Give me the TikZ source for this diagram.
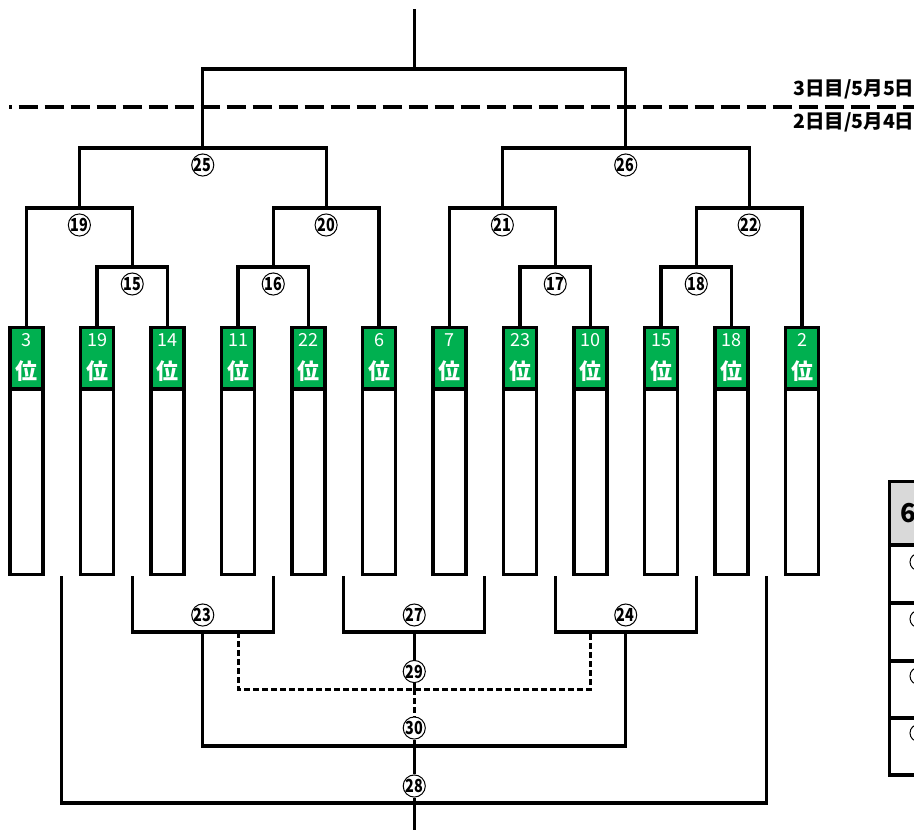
\documentclass[tikz,border=0pt]{standalone}
\usepackage{fontspec}
\setmainfont{Noto Sans CJK JP}
\definecolor{boxgreen}{RGB}{0,176,80}
\definecolor{hdrgray}{RGB}{217,217,217}
\newcommand\mycnum[1]{\scalebox{0.8}[1]{#1}}
\begin{document}
\begin{tikzpicture}[x=1pt,y=-1pt,line width=3.2pt,
  gbox/.style={draw,fill=boxgreen,minimum width=33pt,minimum height=61.5pt,inner sep=0pt},
  wbox/.style={draw,fill=white,minimum width=33pt,minimum height=185.5pt,inner sep=0pt},
  rank/.style={text=white,font=\fontsize{18}{18}\selectfont,inner sep=0pt},
  kurai/.style={text=white,font=\fontsize{22}{22}\selectfont\bfseries,inner sep=0pt},
  mnum/.style={circle,draw,line width=1pt,fill=white,minimum size=22pt,inner sep=0pt,font=\fontsize{18}{18}\selectfont\bfseries},
  daytxt/.style={font=\fontsize{19.5}{19.5}\selectfont\bfseries,inner sep=0pt,anchor=east},
  dayline/.style={line width=4pt,dash pattern=on 19.5pt off 6.5pt,dash phase=16.5pt},
  subline/.style={line width=3pt,dash pattern=on 6pt off 3pt}]
\useasboundingbox (0,0) rectangle (914,830);
\clip (0,0) rectangle (914,830);

% boxes
\foreach \i/\r in {1/3,2/19,3/14,4/11,5/22,6/6,7/7,8/23,9/10,10/15,11/18,12/2}{
  \pgfmathsetmacro\cx{26.5+70.5*(\i-1)}
  \node[wbox] (w\i) at (\cx,481.75) {};
  \node[gbox] (g\i) at (\cx,358.25) {};
  \node[rank] (r\i) at (\cx,340) {\r};
  \node[kurai] (k\i) at (\cx,371) {位};
}

% upper bracket coordinates
\coordinate (m15) at (132.25,267);
\coordinate (m16) at (273.25,267);
\coordinate (m17) at (555.25,267);
\coordinate (m18) at (696.25,267);
\coordinate (m19) at (79.375,208);
\coordinate (m20) at (326.125,208);
\coordinate (m21) at (502.375,208);
\coordinate (m22) at (749.125,208);
\coordinate (m25) at (202.75,148);
\coordinate (m26) at (625.75,148);
\coordinate (mt) at (414.25,69);
\coordinate (top) at (414.25,9);

\draw (g2.north) |- (m15) -| (g3.north);
\draw (g4.north) |- (m16) -| (g5.north);
\draw (g8.north) |- (m17) -| (g9.north);
\draw (g10.north) |- (m18) -| (g11.north);
\draw (g1.north) |- (m19) -| (m15);
\draw (m16) |- (m20) -| (g6.north);
\draw (g7.north) |- (m21) -| (m17);
\draw (m18) |- (m22) -| (g12.north);
\draw (m19) |- (m25) -| (m20);
\draw (m21) |- (m26) -| (m22);
\draw (m25) |- (mt) -| (m26);
\draw (mt) -- (top);

% day separator
\coordinate (dl) at (9,107);
\coordinate (dr) at (914,107);
\draw[dayline] (dl) -- (dr);
\node[daytxt] (day3) at (916,89) {3日目/5月5日};
\node[daytxt] (day2) at (916,122) {2日目/5月4日};

% upper match numbers
\node[mnum] (n15) at (132.25,284) {\mycnum{15}};
\node[mnum] (n16) at (273.25,284) {\mycnum{16}};
\node[mnum] (n17) at (555.25,284) {\mycnum{17}};
\node[mnum] (n18) at (696.25,284) {\mycnum{18}};
\node[mnum] (n19) at (79.375,225) {\mycnum{19}};
\node[mnum] (n20) at (326.125,225) {\mycnum{20}};
\node[mnum] (n21) at (502.375,225) {\mycnum{21}};
\node[mnum] (n22) at (749.125,225) {\mycnum{22}};
\node[mnum] (n25) at (202.75,165) {\mycnum{25}};
\node[mnum] (n26) at (625.75,165) {\mycnum{26}};

% lower bracket coordinates
\coordinate (a23) at (132.25,576);
\coordinate (b23) at (273.25,576);
\coordinate (a27) at (343.75,576);
\coordinate (b27) at (484.75,576);
\coordinate (a24) at (555.25,576);
\coordinate (b24) at (696.25,576);
\coordinate (a28) at (61.75,576);
\coordinate (b28) at (766.75,576);
\coordinate (m23) at (202.75,632);
\coordinate (m27) at (414.25,632);
\coordinate (m24) at (625.75,632);
\coordinate (e23) at (238,632);
\coordinate (e24) at (590.5,632);
\coordinate (m29) at (414.25,689);
\coordinate (m30) at (414.25,746);
\coordinate (m28) at (414.25,803);
\coordinate (bot) at (414.25,835);

\draw (a23) |- (m23) -| (b23);
\draw (a27) |- (m27) -| (b27);
\draw (a24) |- (m24) -| (b24);
\draw (m23) |- (m30) -| (m24);
\draw (a28) |- (m28) -| (b28);
\draw (m28) -- (bot);
\draw[subline] (e23) |- (m29) -| (e24);

\node[mnum] (n23) at (202.75,615) {\mycnum{23}};
\node[mnum] (n27) at (414.25,615) {\mycnum{27}};
\node[mnum] (n24) at (625.75,615) {\mycnum{24}};
\node[mnum] (n29) at (414.25,671.5) {\mycnum{29}};
\node[mnum] (n30) at (414.25,728) {\mycnum{30}};
\node[mnum] (n28) at (414.25,786) {\mycnum{28}};

\draw (m27) -- (n29);
\draw (n29) -- (m29);
\draw[subline] (m29) -- (n30);
\draw (n30) -- (m30);
\draw (m30) -- (n28);
\draw (n28) -- (m28);

% table at right edge
\draw[fill=hdrgray] (889.3,481.7) rectangle (935,545);
\draw (889.3,545) rectangle (935,603);
\draw (889.3,603) rectangle (935,661);
\draw (889.3,661) rectangle (935,718);
\draw (889.3,718) rectangle (935,775);
\node[anchor=west,inner sep=0pt,font=\fontsize{26}{26}\selectfont\bfseries] (h6) at (899,513) {6};
\foreach \yy in {562,619,676,733}{
  \draw[line width=1pt] (918.5,\yy) circle (8.5pt);
}
\end{tikzpicture}
\end{document}
